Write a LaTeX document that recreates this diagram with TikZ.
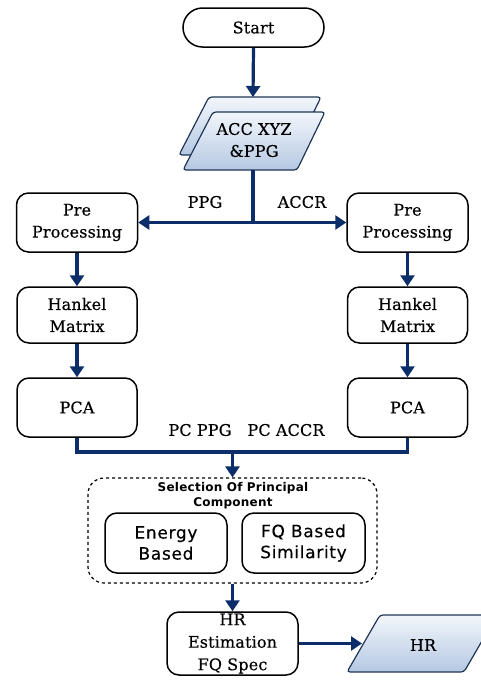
\documentclass[tikz,border=0pt]{standalone}
\usepackage{fontspec}
\setmainfont{DejaVu Serif}[LetterSpace=1,FakeBold=0.4]
\newfontfamily\sansf{DejaVu Sans}[LetterSpace=4,FakeBold=0.3]
\newfontfamily\sansbold{DejaVu Sans}[LetterSpace=2]
\usetikzlibrary{arrows.meta}
\definecolor{navy}{HTML}{0B2D69}
\definecolor{pborder}{HTML}{1F3556}
\definecolor{ptop}{HTML}{F2F6FB}
\definecolor{pbot}{HTML}{B5C8E2}
\tikzset{
  box/.style={draw=black, line width=1.5pt, rounded corners=12pt, fill=white, align=center,
    font=\fontsize{16}{22}\selectfont, inner sep=0pt},
  lbl/.style={font=\fontsize{16}{18}\selectfont, inner sep=0pt},
  conn/.style={draw=navy, line width=3.2pt},
  arr/.style={conn, -{Triangle[length=11pt,width=14pt]}},
  para/.style={draw=pborder, line width=1.2pt, rounded corners=3pt, top color=ptop, bottom color=pbot},
}
\begin{document}
\begin{tikzpicture}[x=1pt,y=-1pt]
\useasboundingbox (0,0) rectangle (480,681);
% start
\node[box, minimum width=141pt, minimum height=39pt, rounded corners=19.5pt] (start) at (253.5,27.5) {Start};
% input parallelogram (stacked)
\path[para] (209,97) -- (321,97) -- (293,155) -- (179,155) -- cycle;
\path[para] (213,112) -- (325,112) -- (297,170) -- (183,170) -- cycle;
\node[align=center, font=\fontsize{16}{22}\selectfont, inner sep=0pt] (acc) at (254,140) {ACC XYZ\\\&PPG};
\coordinate (acctop) at (253,97);
\coordinate (accbot) at (253,170);
\coordinate (jn) at (253,222.5);
% left column
\node[box, minimum width=121pt, minimum height=59pt] (preL) at (77,222.5) {Pre\\Processing};
\node[box, minimum width=120pt, minimum height=56pt] (hankL) at (77,315) {Hankel\\Matrix};
\node[box, minimum width=120pt, minimum height=59pt] (pcaL) at (77,407.5) {PCA};
% right column
\node[box, minimum width=121pt, minimum height=59pt] (preR) at (407.5,222.5) {Pre\\Processing};
\node[box, minimum width=120pt, minimum height=56pt] (hankR) at (407.5,315) {Hankel\\Matrix};
\node[box, minimum width=120pt, minimum height=59pt] (pcaR) at (407.5,407.5) {PCA};
% labels
\node[lbl] (lppg) at (205,202) {PPG};
\node[lbl] (laccr) at (302,202) {ACCR};
\node[lbl] (lpcppg) at (200,430) {PC PPG};
\node[lbl] (lpcaccr) at (286,430) {PC ACCR};
\coordinate (jn2) at (232.5,452);
% selection box
\node[draw=black, line width=1.2pt, dashed, rounded corners=16pt, minimum width=289pt, minimum height=105pt] (sel) at (232.5,530.5) {};
\node[align=center, font=\sansbold\bfseries\fontsize{12}{15.5}\selectfont, inner sep=0pt] (seltitle) at (233,495.5) {Selection Of Principal\\Component};
\node[box, minimum width=122pt, minimum height=60pt, font=\sansf\fontsize{17}{21}\selectfont] (energy) at (166,543) {Energy\\Based};
\node[box, minimum width=123pt, minimum height=60pt, font=\sansf\fontsize{17}{21}\selectfont] (fq) at (303.5,543) {FQ Based\\Similarity};
% HR estimation
\node[box, minimum width=131pt, minimum height=63pt, font=\fontsize{16}{22.5}\selectfont] (hrest) at (232.5,643.5) {HR\\Estimation\\FQ Spec};
% HR output
\path[para] (380,615) -- (497,615) -- (464,672) -- (347,672) -- cycle;
\node[font=\fontsize{16}{18}\selectfont, inner sep=0pt] (hr) at (423,645) {HR};
\coordinate (hrleft) at (362,643.5);
% connectors
\draw[arr] (start.south) -- (acctop);
\draw[conn] (accbot) -- (jn);
\draw[arr] (jn) -- (preL.east);
\draw[arr] (jn) -- (preR.west);
\draw[arr] (preL) -- (hankL);
\draw[arr] (hankL) -- (pcaL);
\draw[arr] (preR) -- (hankR);
\draw[arr] (hankR) -- (pcaR);
\draw[conn] (pcaL.south) -- (pcaL.south |- jn2) -- (pcaR.south |- jn2) -- (pcaR.south);
\draw[arr] (jn2) -- (sel.north);
\draw[arr] (sel.south) -- (hrest.north);
\draw[arr] (hrest.east) -- (hrleft);
\end{tikzpicture}
\end{document}
